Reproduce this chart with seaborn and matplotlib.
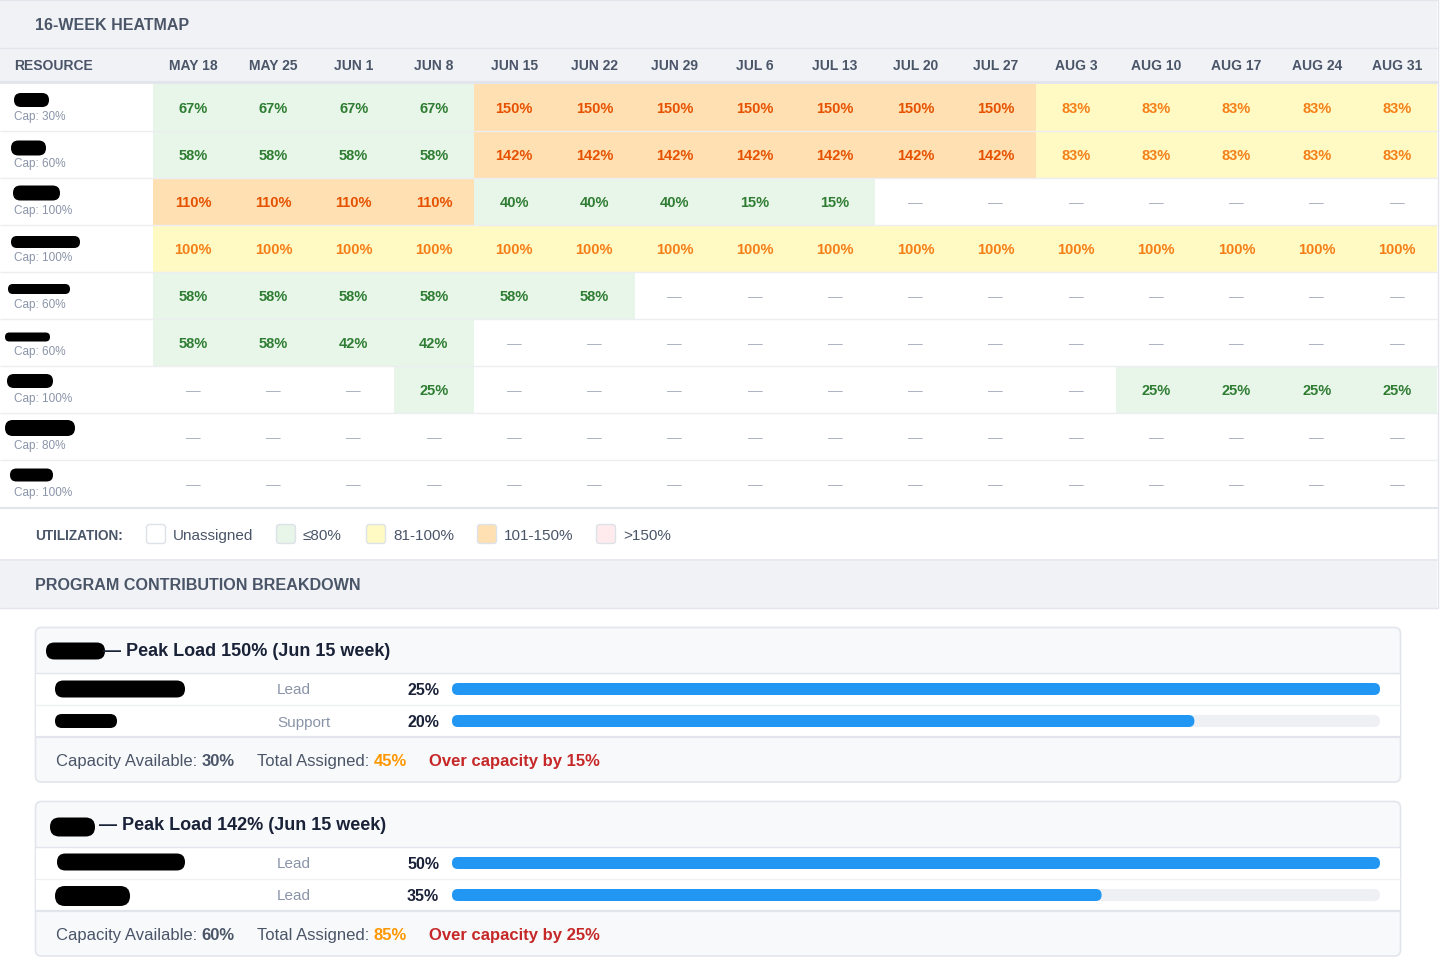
import numpy as np
import pandas as pd
import matplotlib
matplotlib.use('Agg')
import matplotlib.pyplot as plt
from matplotlib.colors import ListedColormap
from matplotlib.patches import FancyBboxPatch, Rectangle
from matplotlib.transforms import blended_transform_factory
import seaborn as sns

# ---- data -------------------------------------------------------------
weeks = ['MAY 18', 'MAY 25', 'JUN 1', 'JUN 8', 'JUN 15', 'JUN 22', 'JUN 29', 'JUL 6',
         'JUL 13', 'JUL 20', 'JUL 27', 'AUG 3', 'AUG 10', 'AUG 17', 'AUG 24', 'AUG 31']
caps = [30, 60, 100, 100, 60, 60, 100, 80, 100]
n = np.nan
util = [
    [67, 67, 67, 67, 150, 150, 150, 150, 150, 150, 150, 83, 83, 83, 83, 83],
    [58, 58, 58, 58, 142, 142, 142, 142, 142, 142, 142, 83, 83, 83, 83, 83],
    [110, 110, 110, 110, 40, 40, 40, 15, 15, n, n, n, n, n, n, n],
    [100, 100, 100, 100, 100, 100, 100, 100, 100, 100, 100, 100, 100, 100, 100, 100],
    [58, 58, 58, 58, 58, 58, n, n, n, n, n, n, n, n, n, n],
    [58, 58, 42, 42, n, n, n, n, n, n, n, n, n, n, n, n],
    [n, n, n, 25, n, n, n, n, n, n, n, n, 25, 25, 25, 25],
    [n, n, n, n, n, n, n, n, n, n, n, n, n, n, n, n],
    [n, n, n, n, n, n, n, n, n, n, n, n, n, n, n, n],
]
legend_labels = ['Unassigned', '≤80%', '81-100%', '101-150%', '>150%']

# program contribution cards
card_peaks = [150, 142]
card_weeks = ['Jun 15', 'Jun 15']
card_roles = [['Lead', 'Support'], ['Lead', 'Lead']]
card_shares = [[25, 20], [50, 35]]
card_caps = [30, 60]
card_totals = [45, 85]
card_over = [15, 25]

# ---- styles -----------------------------------------------------------
bg_colors = ['#ffffff', '#e8f5e9', '#fff9c4', '#ffe0b2', '#ffebee']
txt_colors = ['#aab2c0', '#2e7d32', '#f57f17', '#e65100', '#c62828']
band = '#f0f2f6'
border = '#e2e5ec'
rowsep = '#eceef2'
slate = '#4a5568'
muted = '#8a94a8'
ink = '#1a2238'
dy = 1.5  # matplotlib centres text a touch higher than the browser did

sns.set_theme(style='white')
plt.rcParams['font.family'] = ['Liberation Sans', 'DejaVu Sans']

W, H = 1443, 963
fig = plt.figure(figsize=(W / 100, H / 100), dpi=100)
fig.patch.set_facecolor('white')


def px_axes(x0, y0, x1, y1):
    return fig.add_axes([x0 / W, 1 - y1 / H, (x1 - x0) / W, (y1 - y0) / H])


def pixel_canvas():
    a = fig.add_axes([0, 0, 1, 1])
    a.set_xlim(0, W)
    a.set_ylim(H, 0)
    a.axis('off')
    a.patch.set_alpha(0)
    return a


def category(v):
    if np.isnan(v):
        return 0
    if v <= 80:
        return 1
    if v <= 100:
        return 2
    if v <= 150:
        return 3
    return 4


vals = np.array(util, dtype=float)
cat = np.vectorize(category)(vals)
labels = np.where(np.isnan(vals), '—', np.char.add(np.nan_to_num(vals).astype(int).astype(str), '%'))

# background bands (below the heatmap so its tick labels stay visible)
bg = pixel_canvas()
bg.add_patch(Rectangle((0, 0), 1437, 82, fc=band, ec='none'))
bg.add_patch(Rectangle((0, 561), 1437, 47, fc=band, ec='none'))

# ---- heatmap ----------------------------------------------------------
hm = px_axes(153, 84, 1437, 507)
sns.heatmap(cat, ax=hm, cmap=ListedColormap(bg_colors), vmin=-0.5, vmax=4.5, cbar=False,
            annot=labels, fmt='', annot_kws={'fontsize': 10.5, 'fontweight': 'bold'},
            xticklabels=weeks, yticklabels=False, linewidths=0)
for t, c in zip(hm.texts, cat.flatten()):
    t.set_color(txt_colors[c])
    t.set_y(t.get_position()[1] + 0.03)
    if c == 0:
        t.set_fontweight('normal')
hm.xaxis.tick_top()
hm.tick_params(axis='x', length=0, pad=8, labelsize=10, labelcolor=slate, rotation=0)
for lbl in hm.get_xticklabels():
    lbl.set_fontweight('bold')
hm.set_xlabel('')
hm.set_ylabel('')

# ---- overlay in pixel coordinates --------------------------------------
ov = pixel_canvas()
rows_tf = blended_transform_factory(ov.transData, hm.transData)

ov.axhline(0.5, xmax=1437 / W, color=border, lw=1)
ov.axhline(48.5, xmax=1437 / W, color=border, lw=1)
ov.axhline(82.5, xmax=1437 / W, color=border, lw=2.2)
ov.text(35, 24 + dy, '16-WEEK HEATMAP', fontsize=11.5, fontweight='bold', color=slate, va='center')
ov.text(14, 65 + dy, 'RESOURCE', fontsize=10, fontweight='bold', color=slate, va='center')

# row separators across resource column and cells
ov.hlines(np.arange(1, len(caps)), 0, 1437, transform=rows_tf, color=rowsep, lw=1)

# redaction blobs for resource names (x0, x1, yc, h)
name_blobs = [(14, 49, 100, 14), (11, 46, 148, 15), (13, 60, 193, 15), (11, 80, 242, 12),
              (8, 70, 289, 10), (5, 50, 337, 9), (7, 53, 381, 14), (5, 75, 428, 16),
              (10, 53, 475, 13)]


def blob(x0, x1, yc, h):
    ov.add_patch(FancyBboxPatch((x0, yc - h / 2), x1 - x0, h,
                                boxstyle=f'round,pad=0,rounding_size={h / 2 - 0.1}',
                                fc='black', ec='none'))


for b in name_blobs:
    blob(*b)
for i, c in enumerate(caps):
    ov.text(14, i + 0.70, f'Cap: {c}%', transform=rows_tf, fontsize=8.5, color=muted,
            va='center', ha='left')

# legend strip
ov.axhline(508, xmax=1437 / W, color=border, lw=1.5)
ov.text(35, 534 + dy, 'UTILIZATION:', fontsize=9.8, fontweight='bold', color=slate, va='center')
swatch_x = [146, 276, 366, 477, 596]
for sx, col, lab in zip(swatch_x, bg_colors, legend_labels):
    ov.add_patch(FancyBboxPatch((sx + 0.5, 524.5), 19, 19, boxstyle='round,pad=0,rounding_size=3',
                                fc=col, ec='#dde1e8', lw=1))
    ov.text(sx + 27, 534.5 + dy, lab, fontsize=11, color=slate, va='center')

# breakdown band
ov.axhline(560.5, xmax=1437 / W, color=border, lw=1.2)
ov.axhline(608.5, xmax=1437 / W, color=border, lw=1)
ov.text(35, 584 + dy, 'PROGRAM CONTRIBUTION BREAKDOWN', fontsize=11.6, fontweight='bold',
        color=slate, va='center')
ov.plot([1437.5, 1437.5], [0, 608], color=border, lw=1)

# ---- contribution cards -------------------------------------------------
card_title_blobs = [(46, 105, 651, 17), (50, 95, 827, 19)]
card_title_x = [103, 99]
card_row_blobs = [[(55, 185, 689, 17), (55, 117, 721, 14)],
                  [(57, 185, 862, 17), (55, 130, 896, 20)]]


def chain(x, y, label, value, vcolor, lcolor=slate, lweight='normal'):
    t = ov.text(x, y, label, fontsize=12, color=lcolor, fontweight=lweight, va='center')
    if value:
        ov.annotate(value, xy=(1, 0), xycoords=t, xytext=(3, 0), textcoords='offset points',
                    fontsize=12, fontweight='bold', color=vcolor, va='bottom', ha='left')


for k in range(len(card_peaks)):
    top = 627 + 174 * k
    ov.add_patch(FancyBboxPatch((35.5, top + 0.5), 1365, 154.5,
                                boxstyle='round,pad=0,rounding_size=6',
                                fc='#f8f9fb', ec=border, lw=1.2))
    ov.add_patch(Rectangle((36.2, top + 46), 1364, 64, fc='white', ec='none'))
    ov.plot([36, 1400], [top + 46.5, top + 46.5], color=border, lw=1)
    ov.plot([36, 1400], [top + 78.5, top + 78.5], color='#eef0f4', lw=1)
    ov.plot([36, 1400], [top + 110.5, top + 110.5], color=border, lw=1.6)

    blob(*card_title_blobs[k])
    ov.text(card_title_x[k], top + 23.5 + dy,
            f'— Peak Load {card_peaks[k]}% ({card_weeks[k]} week)',
            fontsize=13, fontweight='bold', color=ink, va='center')
    for j, role in enumerate(card_roles[k]):
        yc = top + 62 + 32 * j
        blob(*card_row_blobs[k][j])
        ov.text(277, yc + dy, role, fontsize=11, color=muted, va='center')
        ov.text(439, yc + dy, f'{card_shares[k][j]}%', fontsize=11.5, fontweight='bold',
                color=ink, va='center', ha='right')

    fy = top + 133 + dy
    chain(56, fy, 'Capacity Available:', f'{card_caps[k]}%', slate)
    chain(257, fy, 'Total Assigned:', f'{card_totals[k]}%', '#ff9800')
    ov.text(429, fy, f'Over capacity by {card_over[k]}%', fontsize=12, fontweight='bold',
            color='#c62828', va='center')

    # progress bars
    shares = card_shares[k]
    maxv = max(shares)
    bx = px_axes(452, top + 46, 1380, top + 110)
    df = pd.DataFrame({'row': [f'r{j}' for j in range(len(shares))], 'share': shares,
                       'track': [maxv] * len(shares)})
    sns.barplot(data=df, x='track', y='row', orient='h', ax=bx, color='#eef0f4',
                saturation=1, width=0.375, errorbar=None)
    sns.barplot(data=df, x='share', y='row', orient='h', ax=bx, color='#2196f3',
                saturation=1, width=0.375, errorbar=None)
    bx.set_xlim(0, maxv)
    bx.set_ylim(len(shares) - 0.5, -0.5)
    bx.axis('off')
    bx.patch.set_alpha(0)
    ux = 928 / maxv   # px per x unit
    uy = 32.0         # px per row
    for p in list(bx.patches):
        rp = FancyBboxPatch((p.get_x(), p.get_y()), p.get_width(), p.get_height(),
                            boxstyle=f'round,pad=0,rounding_size={5.9 / ux}',
                            mutation_aspect=ux / uy, fc=p.get_facecolor(), ec='none')
        p.remove()
        bx.add_patch(rp)

fig.savefig('out.png', dpi=100)
